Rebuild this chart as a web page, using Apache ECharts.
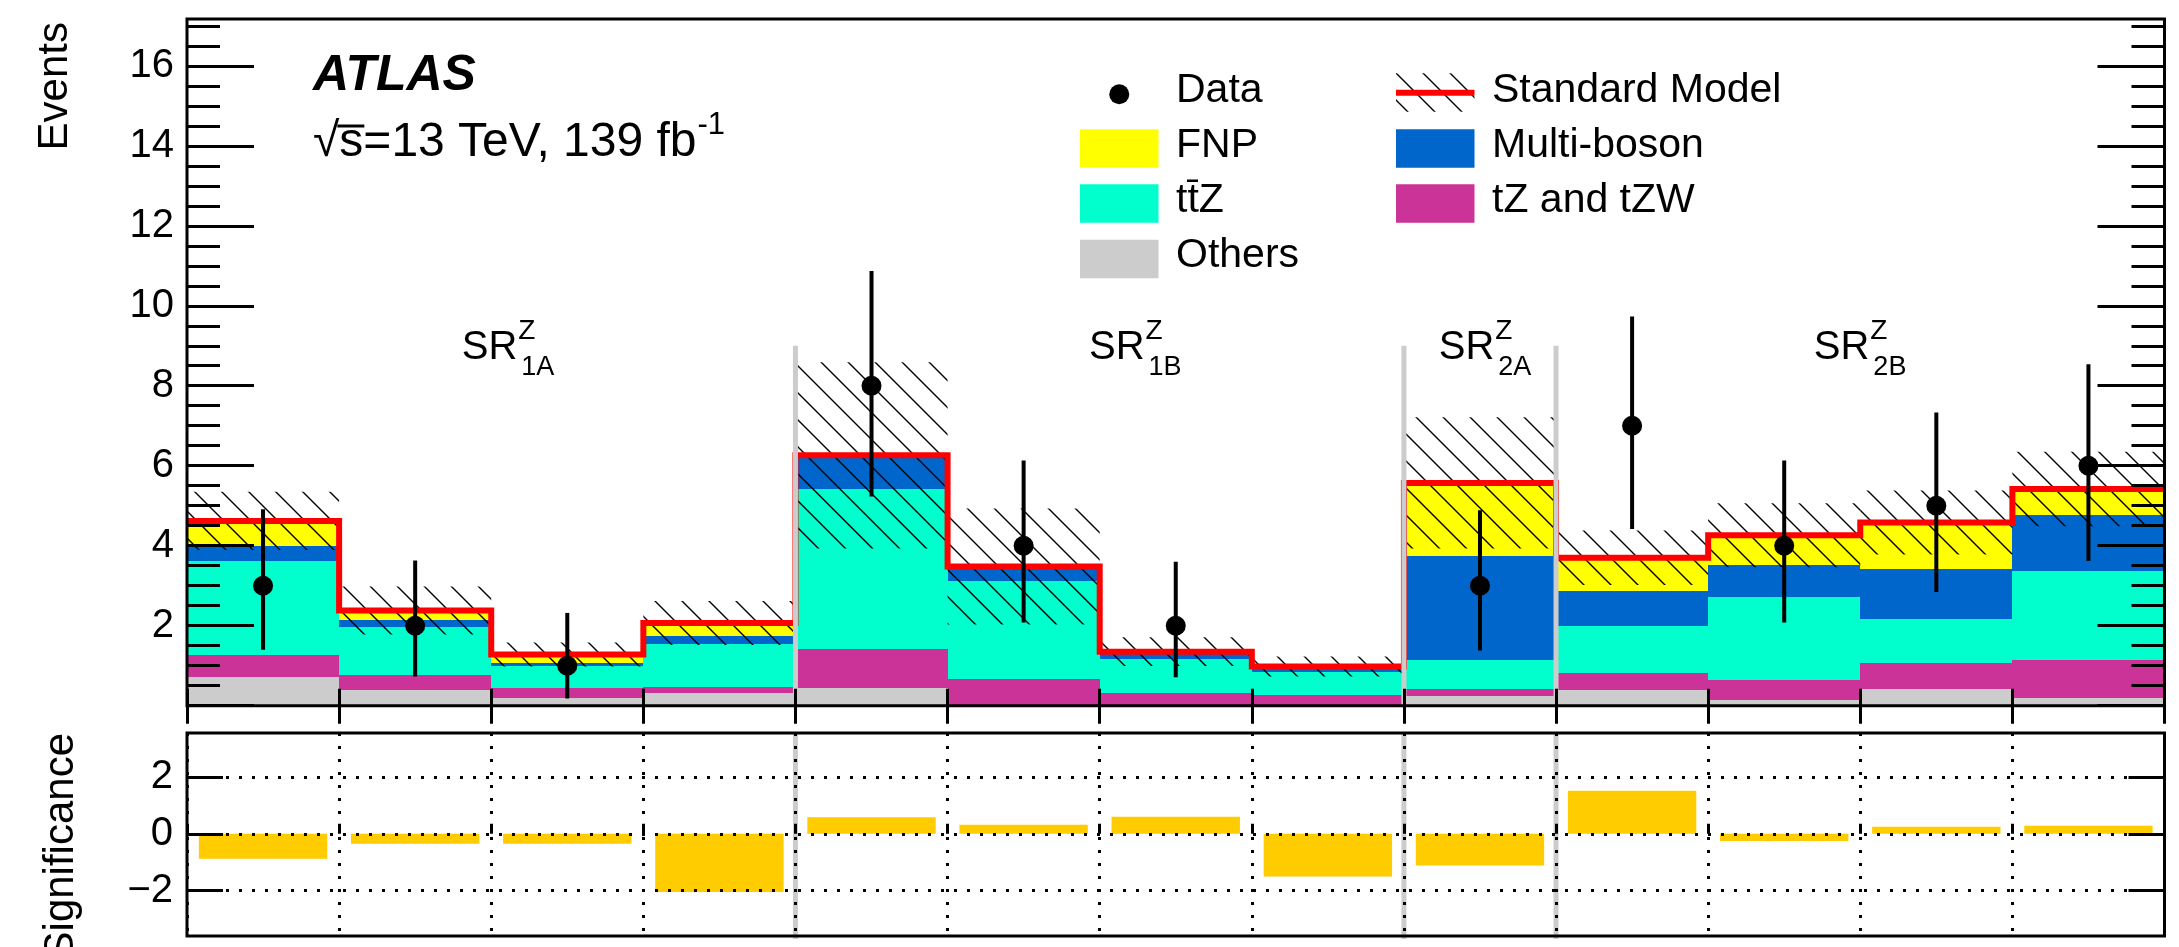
<!DOCTYPE html>
<html>
<head>
<meta charset="utf-8">
<title>SR Z yields</title>
<script src="https://cdn.jsdelivr.net/npm/echarts@6/dist/echarts.min.js"></script>
<style>
  html, body { margin: 0; padding: 0; background: #ffffff; }
  #chart { width: 2179px; height: 947px; }
</style>
</head>
<body>
<div id="chart"></div>
<script>
// ---------------------------------------------------------------------------
// Signal-region bins: SR1A (4 bins), SR1B (4 bins), SR2A (1 bin), SR2B (4 bins)
// ---------------------------------------------------------------------------
const bins = ['SR1A-1', 'SR1A-2', 'SR1A-3', 'SR1A-4',
              'SR1B-1', 'SR1B-2', 'SR1B-3', 'SR1B-4',
              'SR2A',
              'SR2B-1', 'SR2B-2', 'SR2B-3', 'SR2B-4'];

// Background yields per bin, stacked from the bottom up
const others     = [0.73, 0.39, 0.20, 0.31, 0.45, 0.03, 0.02, 0.02, 0.25, 0.39, 0.14, 0.41, 0.20];
const tZtZW      = [0.54, 0.37, 0.25, 0.17, 0.96, 0.65, 0.29, 0.24, 0.18, 0.44, 0.50, 0.67, 0.94];
const ttZ        = [2.34, 1.21, 0.54, 1.06, 4.01, 2.45, 0.87, 0.59, 0.71, 1.16, 2.09, 1.09, 2.23];
const multiBoson = [0.38, 0.17, 0.09, 0.21, 0.80, 0.33, 0.14, 0.10, 2.60, 0.89, 0.80, 1.24, 1.41];
const fnp        = [0.63, 0.24, 0.20, 0.32, 0.04, 0.02, 0.03, 0.03, 1.83, 0.82, 0.73, 1.17, 0.64];

// Total SM uncertainty (half width of the hatched band)
const smUnc = [0.73, 0.60, 0.30, 0.55, 2.33, 1.45, 0.36, 0.25, 1.64, 0.68, 0.80, 0.80, 0.93];

// Observed events with their asymmetric error bars
const dataObs     = [3, 2, 1, 0, 8, 4, 2, 0, 3, 7, 4, 5, 6];
const dataErrDown = [1.60, 1.27, 0.82, 0, 2.77, 1.92, 1.29, 0, 1.62, 2.58, 1.92, 2.16, 2.38];
const dataErrUp   = [1.91, 1.63, 1.32, 0, 2.87, 2.13, 1.60, 0, 1.89, 2.73, 2.13, 2.33, 2.54];

// Significance of data vs. SM in each bin
const significance = [-0.88, -0.35, -0.35, -2.05, 0.58, 0.32, 0.60, -1.50, -1.12, 1.52, -0.25, 0.25, 0.28];

// Region boundaries (bin-edge index) and region names
const regionEdges = [4, 8, 9];
const regionNames = [
  { main: 'SR', sup: 'Z', sub: '1A' },
  { main: 'SR', sup: 'Z', sub: '1B' },
  { main: 'SR', sup: 'Z', sub: '2A' },
  { main: 'SR', sup: 'Z', sub: '2B' }
];

// Axis ticks and labels
const yMajorTicks = [0, 2, 4, 6, 8, 10, 12, 14, 16];
const yLabelValues = [2, 4, 6, 8, 10, 12, 14, 16];
const yMinorTicks = [0.5, 1, 1.5, 2, 2.5, 3, 3.5, 4, 4.5, 5, 5.5, 6, 6.5, 7, 7.5, 8, 8.5,
                     9, 9.5, 10, 10.5, 11, 11.5, 12, 12.5, 13, 13.5, 14, 14.5, 15, 15.5, 16, 16.5, 17];
const sigTicks = [-2, 0, 2];

// ---------------------------------------------------------------------------
// Styling
// ---------------------------------------------------------------------------
const FONT = '"Liberation Sans", Arial, Helvetica, sans-serif';
const COLORS = {
  others: '#cccccc',
  tZ: '#cc3399',
  ttZ: '#00ffcc',
  multiBoson: '#0066cc',
  fnp: '#ffff00',
  sm: '#ff0000',
  sig: '#ffcc00',
  separator: '#cccccc'
};
const UPPER = { left: 187, top: 19, width: 1977.5, height: 686.7, yMax: 17.17 };
const LOWER = { left: 187, top: 733, width: 1977.5, height: 203, yMin: -3.6, yMax: 3.55 };
const SEPARATOR_TOP = 9;      // separators in the main panel stop at this many events
const SIG_BAR_INSET = 0.078;  // fraction of a bin left empty on each side of a significance bar

// Diagonal hatch used for the SM uncertainty band
function makeHatch(step, lw) {
  const c = document.createElement('canvas');
  c.width = step; c.height = step;
  const g = c.getContext('2d');
  g.strokeStyle = '#000';
  g.lineWidth = lw;
  g.beginPath();
  g.moveTo(-2, -2); g.lineTo(step + 2, step + 2);
  g.moveTo(step - 2, -2); g.lineTo(step + 2, 2);
  g.moveTo(-2, step - 2); g.lineTo(2, step + 2);
  g.stroke();
  return c;
}
const hatchPattern = { image: makeHatch(27, 1.4), repeat: 'repeat' };

const measureCtx = document.createElement('canvas').getContext('2d');
function textWidth(str, font) {
  measureCtx.font = font;
  return measureCtx.measureText(str).width;
}
function txt(x, y, text, font, extra) {
  return Object.assign({
    type: 'text', x: x, y: y, z: 20,
    style: { text: text, font: font, fill: '#000', align: 'left', verticalAlign: 'middle',
             textAlign: 'left', textVerticalAlign: 'middle' }
  }, extra || {});
}
function rotatedTitle(x, yTop, text, font) {
  return {
    type: 'text', x: x, y: yTop, z: 20, rotation: Math.PI / 2,
    style: { text: text, font: font, fill: '#000', align: 'right', textAlign: 'right',
             verticalAlign: 'middle', textVerticalAlign: 'middle' }
  };
}

// ---------------------------------------------------------------------------
// Stacked background histograms
// ---------------------------------------------------------------------------
function binRect(color) {
  return function (params, api) {
    const i = api.value(0);
    const a = api.coord([i, api.value(1)]);
    const b = api.coord([i + 1, api.value(2)]);
    const x0 = Math.round(a[0]), x1 = Math.round(b[0]);
    const y0 = Math.round(a[1]), y1 = Math.round(b[1]);
    return { type: 'rect', shape: { x: x0, y: y1, width: x1 - x0, height: y0 - y1 }, style: { fill: color } };
  };
}

const processes = [
  { name: 'Others', values: others, color: COLORS.others },
  { name: 'tZ and tZW', values: tZtZW, color: COLORS.tZ },
  { name: 'tt\u0304Z', values: ttZ, color: COLORS.ttZ },
  { name: 'Multi-boson', values: multiBoson, color: COLORS.multiBoson },
  { name: 'FNP', values: fnp, color: COLORS.fnp }
];

let cumulative = bins.map(() => 0);
const stackSeries = processes.map(function (p) {
  const data = p.values.map(function (v, i) { return [i, cumulative[i], cumulative[i] + v]; });
  cumulative = cumulative.map(function (c, i) { return c + p.values[i]; });
  return {
    type: 'custom', name: p.name, xAxisIndex: 0, yAxisIndex: 0, z: 2,
    encode: { x: 0, y: [1, 2] }, data: data, renderItem: binRect(p.color)
  };
});
const smTotal = cumulative;

// Step outline of the SM total: one point per bin edge
const smStep = smTotal.map(function (v, i) { return [i, v]; });
smStep.push([bins.length, smTotal[smTotal.length - 1]]);

const series = stackSeries.concat([
  {
    type: 'custom', name: 'SM uncertainty', xAxisIndex: 0, yAxisIndex: 0, z: 3,
    data: smTotal.map(function (v, i) { return [i, v - smUnc[i], v + smUnc[i]]; }),
    encode: { x: 0, y: [1, 2] },
    renderItem: function (params, api) {
      const i = api.value(0);
      const a = api.coord([i, api.value(1)]);
      const b = api.coord([i + 1, api.value(2)]);
      return { type: 'rect', shape: { x: a[0], y: b[1], width: b[0] - a[0], height: a[1] - b[1] },
               style: { fill: hatchPattern } };
    }
  },
  {
    type: 'line', name: 'Standard Model', xAxisIndex: 0, yAxisIndex: 0, z: 4,
    step: 'end', symbol: 'none', data: smStep,
    lineStyle: { color: COLORS.sm, width: 6, join: 'miter', cap: 'butt' }
  },
  {
    type: 'custom', name: 'separators', xAxisIndex: 0, yAxisIndex: 0, z: 5,
    data: regionEdges.map(function (e) { return [e, 0, SEPARATOR_TOP]; }),
    renderItem: function (params, api) {
      const a = api.coord([api.value(0), api.value(1)]);
      const b = api.coord([api.value(0), api.value(2)]);
      return { type: 'line', shape: { x1: a[0], y1: a[1], x2: b[0], y2: b[1] },
               style: { stroke: COLORS.separator, lineWidth: 5 } };
    }
  },
  {
    type: 'custom', name: 'Data', xAxisIndex: 0, yAxisIndex: 0, z: 6,
    data: dataObs.map(function (n, i) { return [i, n, dataErrDown[i], dataErrUp[i]]; }),
    renderItem: function (params, api) {
      const i = api.value(0), n = api.value(1);
      if (n <= 0) { return null; }
      const c = api.coord([i + 0.5, n]);
      const lo = api.coord([i + 0.5, n - api.value(2)]);
      const hi = api.coord([i + 0.5, n + api.value(3)]);
      return {
        type: 'group', children: [
          { type: 'line', shape: { x1: c[0], y1: lo[1], x2: c[0], y2: hi[1] }, style: { stroke: '#000', lineWidth: 4 } },
          { type: 'circle', shape: { cx: c[0], cy: c[1], r: 10 }, style: { fill: '#000' } }
        ]
      };
    }
  },
  // lower panel
  {
    type: 'custom', name: 'separators (ratio)', xAxisIndex: 2, yAxisIndex: 4, z: 2,
    data: regionEdges.map(function (e) { return [e]; }),
    renderItem: function (params, api) {
      const x = api.coord([api.value(0), 0])[0];
      const cs = params.coordSys;
      return { type: 'line', shape: { x1: x, y1: cs.y, x2: x, y2: cs.y + cs.height + 3 },
               style: { stroke: COLORS.separator, lineWidth: 5 } };
    }
  },
  {
    type: 'custom', name: 'Significance', xAxisIndex: 2, yAxisIndex: 4, z: 2,
    data: significance.map(function (s, i) { return [i, s]; }),
    renderItem: function (params, api) {
      const i = api.value(0);
      const a = api.coord([i + SIG_BAR_INSET, 0]);
      const b = api.coord([i + 1 - SIG_BAR_INSET, api.value(1)]);
      return { type: 'rect',
               shape: { x: a[0], y: Math.min(a[1], b[1]), width: b[0] - a[0], height: Math.abs(a[1] - b[1]) },
               style: { fill: COLORS.sig } };
    },
    markLine: {
      silent: true, symbol: ['none', 'none'], label: { show: false }, animation: false,
      lineStyle: { color: '#000', width: 3, type: [3, 10] },
      emphasis: { disabled: true },
      data: sigTicks.map(function (v) { return { yAxis: v }; })
    }
  }
]);

// ---------------------------------------------------------------------------
// Axes
// ---------------------------------------------------------------------------
const tickStyle = { color: '#000', width: 3 };
const labelStyle = { color: '#000', fontSize: 40, fontFamily: FONT };

function binAxis(gridIndex, position, tickLen, extra) {
  return Object.assign({
    type: 'value', gridIndex: gridIndex, position: position, min: 0, max: bins.length, interval: 1,
    axisLine: { show: false }, axisLabel: { show: false }, splitLine: { show: false },
    axisTick: { show: true, inside: true, length: tickLen, lineStyle: tickStyle }, z: 10
  }, extra || {});
}
function eventsAxis(position, ticks, len, withLabels) {
  return {
    type: 'value', gridIndex: 0, position: position, min: 0, max: UPPER.yMax,
    axisLine: { show: false }, splitLine: { show: false }, z: 10,
    axisTick: { show: true, inside: true, length: len, lineStyle: tickStyle, customValues: ticks },
    axisLabel: withLabels ? Object.assign({ customValues: yLabelValues, margin: 13 }, labelStyle) : { show: false }
  };
}
function sigAxis(position, withLabels) {
  return {
    type: 'value', gridIndex: 1, position: position, min: LOWER.yMin, max: LOWER.yMax,
    axisLine: { show: false }, splitLine: { show: false }, z: 10,
    axisTick: { show: true, inside: true, length: 36, lineStyle: tickStyle, customValues: sigTicks },
    axisLabel: withLabels ? Object.assign({
      customValues: sigTicks, margin: 14,
      formatter: function (v) { return v < 0 ? '\u2212' + Math.abs(v) : String(v); }
    }, labelStyle) : { show: false }
  };
}

// ---------------------------------------------------------------------------
// Text, region labels and legend
// ---------------------------------------------------------------------------
const graphics = [];

// axis titles (rotated, reading bottom to top)
graphics.push(rotatedTitle(55, 22, 'Events', '42px ' + FONT));
graphics.push(rotatedTitle(61, 733, 'Significance', '42px ' + FONT));

// experiment label
graphics.push(txt(313, 76, 'ATLAS', 'italic bold 50px ' + FONT));
(function () {
  const f = '48px ' + FONT, fs = '31px ' + FONT;
  const x = 313;
  graphics.push(txt(x, 143, '\u221a', f));
  const xs = x + textWidth('\u221a', f);
  graphics.push({ type: 'line', z: 20, shape: { x1: xs - 2, y1: 126, x2: xs + textWidth('s', f) + 1, y2: 126 },
                  style: { stroke: '#000', lineWidth: 3 } });
  const main = 's=13 TeV, 139 fb';
  graphics.push(txt(xs, 143, main, f));
  graphics.push(txt(xs + textWidth(main, f) + 1, 125, '-1', fs));
})();

// region labels
const regionLabelX = [461.7, 1089, 1438.7, 1813.8];
regionNames.forEach(function (r, k) {
  const fMain = '40px ' + FONT, fSup = '28px ' + FONT, fSub = '27px ' + FONT;
  const x = regionLabelX[k];
  const w = textWidth(r.main, fMain);
  graphics.push(txt(x, 347.5, r.main, fMain));
  graphics.push(txt(x + w + 1, 331.7, r.sup, fSup));
  graphics.push(txt(x + w + 4, 367.3, r.sub, fSub));
});

// legend
(function () {
  const rowY = [93.5, 148.5, 203.5, 259];
  const textDy = -3.2;
  const boxW = 78.5, boxH = 38.4;
  const col1 = { box: 1080, text: 1176 };
  const col2 = { box: 1396, text: 1492 };
  const f = '41px ' + FONT;
  // Data
  graphics.push({ type: 'circle', z: 20, shape: { cx: col1.box + boxW / 2, cy: rowY[0] + 0.8, r: 10 }, style: { fill: '#000' } });
  graphics.push(txt(col1.text, rowY[0] + textDy, 'Data', f));
  // filled boxes
  const boxes = [
    { col: col1, row: 1, name: 'FNP', color: COLORS.fnp },
    { col: col1, row: 2, name: 'tt\u0304Z', color: COLORS.ttZ },
    { col: col1, row: 3, name: 'Others', color: COLORS.others },
    { col: col2, row: 1, name: 'Multi-boson', color: COLORS.multiBoson },
    { col: col2, row: 2, name: 'tZ and tZW', color: COLORS.tZ }
  ];
  boxes.forEach(function (b) {
    graphics.push({ type: 'rect', z: 20, shape: { x: b.col.box, y: rowY[b.row] - boxH / 2, width: boxW, height: boxH },
                    style: { fill: b.color } });
    graphics.push(txt(b.col.text, rowY[b.row] + textDy, b.name, f));
  });
  // Standard Model: hatched box with the red line
  graphics.push({ type: 'rect', z: 20, shape: { x: col2.box, y: rowY[0] - 20.2, width: boxW, height: boxH },
                  style: { fill: hatchPattern } });
  graphics.push({ type: 'line', z: 21, shape: { x1: col2.box, y1: rowY[0] - 0.8, x2: col2.box + boxW, y2: rowY[0] - 0.8 },
                  style: { stroke: COLORS.sm, lineWidth: 6 } });
  graphics.push(txt(col2.text, rowY[0] + textDy, 'Standard Model', f));
})();

// ---------------------------------------------------------------------------
// Chart
// ---------------------------------------------------------------------------
const chart = echarts.init(document.getElementById('chart'), null, { renderer: 'canvas', width: 2179, height: 947 });
chart.setOption({
  animation: false,
  backgroundColor: '#ffffff',
  textStyle: { fontFamily: FONT },
  grid: [
    { left: UPPER.left, top: UPPER.top, width: UPPER.width, height: UPPER.height,
      show: true, borderColor: '#000', borderWidth: 3, backgroundColor: 'transparent', z: 10 },
    { left: LOWER.left, top: LOWER.top, width: LOWER.width, height: LOWER.height,
      show: true, borderColor: '#000', borderWidth: 3, backgroundColor: 'transparent', z: 10 }
  ],
  xAxis: [
    binAxis(0, 'bottom', 17),
    binAxis(0, 'top', 18),
    binAxis(1, 'bottom', 10, {
      z: 3,
      splitLine: { show: true, lineStyle: { color: '#000', width: 3, type: [3, 10] } }
    })
  ],
  yAxis: [
    eventsAxis('left', yMajorTicks, 67, true),
    eventsAxis('left', yMinorTicks, 33, false),
    eventsAxis('right', yMajorTicks, 67, false),
    eventsAxis('right', yMinorTicks, 33, false),
    sigAxis('left', true),
    sigAxis('right', false)
  ],
  series: series,
  graphic: { elements: graphics }
});
</script>
</body>
</html>
